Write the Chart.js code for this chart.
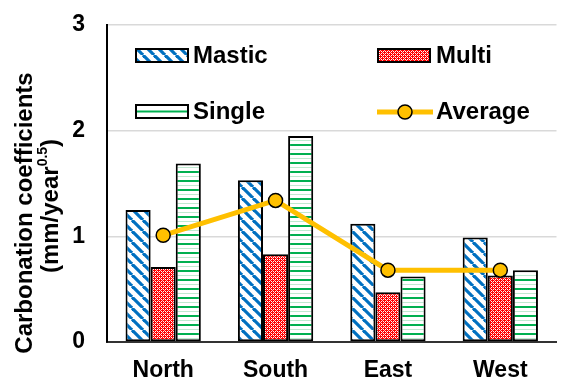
<!DOCTYPE html>
<html lang="en">

<head>
    <meta charset="UTF-8">
    <title>Carbonation coefficients</title>
    <style>
        body { margin: 0; background: #fff; }
        #wrap { width: 565px; height: 380px; position: relative; }
    </style>
</head>

<body>
    <div id="wrap">
        <canvas id="myChart"></canvas>
    </div>

    <script src="https://cdn.jsdelivr.net/npm/chart.js"></script>
    <script>
        // data
        const categories = ['North', 'South', 'East', 'West'];
        const masticValues = [1.25, 1.53, 1.12, 0.99];
        const multiValues = [0.71, 0.83, 0.47, 0.63];
        const singleValues = [1.69, 1.95, 0.62, 0.68];
        const averageValues = [1.01, 1.34, 0.68, 0.68];
        const yTicks = [0, 1, 2, 3];

        const FONT = '"Liberation Sans", Arial, sans-serif';

        // fill patterns
        function makeTile(w, h, draw) {
            let c = document.createElement('canvas');
            c.width = w;
            c.height = h;
            let g = c.getContext('2d');
            g.fillStyle = '#fff';
            g.fillRect(0, 0, w, h);
            draw(g, w, h);
            return document.createElement('canvas').getContext('2d').createPattern(c, 'repeat');
        }

        let mastic = makeTile(11, 11, (g, w, h) => {
            g.strokeStyle = '#0070C0';
            g.lineWidth = 3.2;
            for (let x0 = -w; x0 <= w; x0 += w) {
                g.beginPath();
                g.moveTo(x0, 0);
                g.lineTo(x0 + w, h);
                g.stroke();
            }
        });

        let multi = makeTile(4, 4, (g) => {
            g.fillStyle = '#FF0000';
            g.fillRect(0, 0, 4, 4);
            g.fillStyle = '#fff';
            g.fillRect(1, 1, 1, 1);
            g.fillRect(3, 3, 1, 1);
            g.fillRect(1, 3, 1, 1);
            g.fillRect(3, 1, 1, 1);
            g.fillStyle = '#FFB0B0';
            g.fillRect(0, 2, 1, 1);
            g.fillRect(2, 0, 1, 1);
        });

        let single = makeTile(9, 9, (g) => {
            g.fillStyle = '#00B050';
            g.fillRect(0, 0, 9, 2);
            g.fillStyle = '#BFE9D0';
            g.fillRect(0, 5, 9, 1);
        });

        // y axis title with superscript
        const axisTitle = {
            id: 'axisTitle',
            afterDraw(chart) {
                let ctx = chart.ctx;
                ctx.save();
                ctx.fillStyle = '#000';
                ctx.textBaseline = 'middle';
                ctx.translate(25, 213);
                ctx.rotate(-Math.PI / 2);
                ctx.textAlign = 'center';
                ctx.font = 'bold 24px ' + FONT;
                ctx.fillText('Carbonation coefficients', 0, 0);

                ctx.restore();
                ctx.save();
                ctx.fillStyle = '#000';
                ctx.textBaseline = 'middle';
                ctx.translate(51, 206);
                ctx.rotate(-Math.PI / 2);
                ctx.textAlign = 'left';
                let big = 'bold 24px ' + FONT;
                let small = 'bold 14px ' + FONT;
                ctx.font = big;
                let w1 = ctx.measureText('(mm/year').width;
                let w3 = ctx.measureText(')').width;
                ctx.font = small;
                let w2 = ctx.measureText('0.5').width;
                let x = -(w1 + w2 + w3) / 2;
                ctx.font = big;
                ctx.fillText('(mm/year', x, 0);
                ctx.font = small;
                ctx.fillText('0.5', x + w1, -8);
                ctx.font = big;
                ctx.fillText(')', x + w1 + w2, 0);
                ctx.restore();
            }
        };

        // legend inside the plot, two columns
        const insideLegend = {
            id: 'insideLegend',
            afterDraw(chart) {
                let ctx = chart.ctx;
                ctx.save();
                ctx.font = 'bold 24px ' + FONT;
                ctx.textBaseline = 'middle';
                ctx.textAlign = 'left';

                let box = (x, y, fill) => {
                    ctx.fillStyle = fill;
                    ctx.fillRect(x, y, 52, 13);
                    ctx.lineWidth = 2;
                    ctx.strokeStyle = '#000';
                    ctx.strokeRect(x, y, 52, 13);
                };

                box(136, 49, mastic);
                ctx.fillStyle = '#000';
                ctx.fillText('Mastic', 193, 56);

                box(378, 49, multi);
                ctx.fillStyle = '#000';
                ctx.fillText('Multi', 436, 56);

                box(136, 105, '#fff');
                ctx.fillStyle = '#00B050';
                ctx.fillRect(137, 110.5, 50, 2);
                ctx.fillStyle = '#000';
                ctx.fillText('Single', 193, 112);

                ctx.strokeStyle = '#FFC000';
                ctx.lineWidth = 5;
                ctx.beginPath();
                ctx.moveTo(377, 112);
                ctx.lineTo(433, 112);
                ctx.stroke();
                ctx.beginPath();
                ctx.arc(405, 112, 7, 0, Math.PI * 2);
                ctx.fillStyle = '#FFC000';
                ctx.fill();
                ctx.lineWidth = 1.5;
                ctx.strokeStyle = '#000';
                ctx.stroke();
                ctx.fillStyle = '#000';
                ctx.fillText('Average', 436, 112);
                ctx.restore();
            }
        };

        let barStyle = {
            borderColor: '#000',
            borderWidth: 2,
            borderSkipped: false,
            barPercentage: 1.0,
            categoryPercentage: 0.67,
            order: 1
        };

        let ctx = document.getElementById('myChart');
        new Chart(ctx, {
            type: 'bar',
            data: {
                labels: categories,
                datasets: [
                    Object.assign({ label: 'Mastic', data: masticValues, backgroundColor: mastic }, barStyle),
                    Object.assign({ label: 'Multi', data: multiValues, backgroundColor: multi }, barStyle),
                    Object.assign({ label: 'Single', data: singleValues, backgroundColor: single }, barStyle),
                    {
                        type: 'line',
                        label: 'Average',
                        data: averageValues,
                        borderColor: '#FFC000',
                        borderWidth: 5,
                        pointRadius: 7,
                        pointBackgroundColor: '#FFC000',
                        pointBorderColor: '#000',
                        pointBorderWidth: 1.5,
                        tension: 0,
                        order: 0
                    }
                ]
            },
            options: {
                responsive: true,
                maintainAspectRatio: false,
                animation: false,
                layout: { padding: { top: 25, right: 0, left: 0, bottom: 0 } },
                plugins: {
                    legend: { display: false },
                    tooltip: { enabled: false }
                },
                scales: {
                    x: {
                        grid: { display: false },
                        border: { color: '#333', width: 2 },
                        ticks: {
                            color: '#000',
                            padding: 7,
                            font: { family: FONT, size: 23, weight: 'bold' }
                        },
                        afterFit: (s) => {
                            s.height = 38;
                            s.paddingLeft = 0;
                            s.paddingRight = 0;
                        }
                    },
                    y: {
                        min: 0,
                        max: 3,
                        afterBuildTicks: (s) => { s.ticks = yTicks.map(v => ({ value: v })); },
                        grid: { color: '#d9d9d9', lineWidth: 1.5, drawTicks: false },
                        border: { color: '#000', width: 2 },
                        ticks: {
                            color: '#000',
                            padding: 22,
                            font: { family: FONT, size: 23, weight: 'bold' }
                        },
                        afterFit: (s) => {
                            s.width = 107;
                            s.paddingTop = 0;
                            s.paddingBottom = 0;
                        }
                    }
                }
            },
            plugins: [axisTitle, insideLegend]
        });
    </script>
</body>

</html>
